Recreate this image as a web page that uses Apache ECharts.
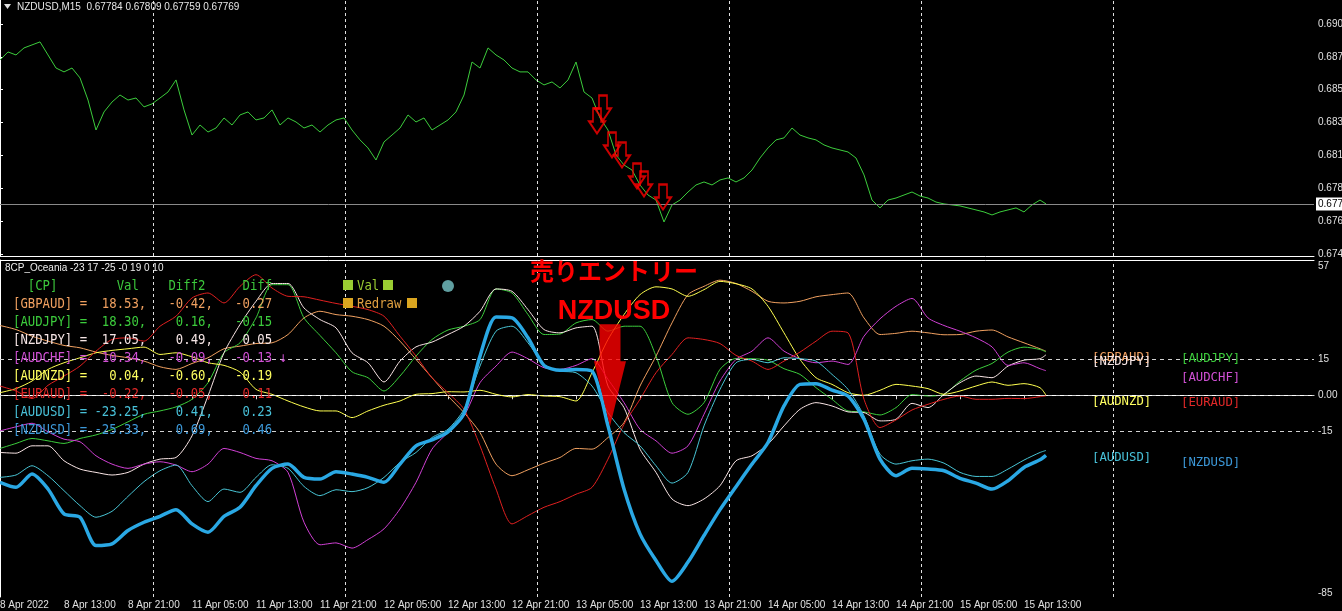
<!DOCTYPE html>
<html><head><meta charset="utf-8">
<script src="https://cdn.jsdelivr.net/npm/echarts@6/dist/echarts.min.js"></script>
<style>html,body{margin:0;padding:0;background:#000;}#c{width:1342px;height:611px;}</style>
</head><body><div id="c"></div>
<script>
// ---- x positions (M15 bar index) ----
const priceBars = Array.from({length:131},(_, i)=>i*4).concat([523]);
const indBars = Array.from({length:66},(_, i)=>i*8).concat([523]);
const tickBars = [0,32,64,96,128,160,192,224,256,288,320,352,384,416,448,480,512];
const tickLabels = ['8 Apr 2022','8 Apr 13:00','8 Apr 21:00','11 Apr 05:00','11 Apr 13:00','11 Apr 21:00','12 Apr 05:00','12 Apr 13:00','12 Apr 21:00','13 Apr 05:00','13 Apr 13:00','13 Apr 21:00','14 Apr 05:00','14 Apr 13:00','14 Apr 21:00','15 Apr 05:00','15 Apr 13:00'];
const daySepBars = [76.5,172.5,268.5,364.5,460.5,556.5];
const priceTicks = [0.67420,0.67649,0.67878,0.68107,0.68336,0.68565,0.68794,0.69023];
const oscTicks = [57,15,0,-15,-85];
const oscLevels = [15,0,-15];
const lastPrice = 0.67769;

// ---- NZDUSD M15 close ----
const price = [0.68772,0.68828,0.68807,0.68856,0.68877,0.68898,0.68807,0.68716,0.68689,0.68716,
0.68647,0.68493,0.68284,0.68410,0.68479,0.68528,0.68493,0.68507,0.68445,0.68466,
0.68507,0.68549,0.68633,0.68424,0.68249,0.68319,0.68270,0.68298,0.68368,0.68319,
0.68389,0.68410,0.68354,0.68368,0.68424,0.68319,0.68368,0.68340,0.68298,0.68319,
0.68270,0.68319,0.68354,0.68368,0.68284,0.68215,0.68159,0.68075,0.68201,0.68249,
0.68298,0.68389,0.68340,0.68368,0.68284,0.68319,0.68354,0.68410,0.68528,0.68758,
0.68716,0.68856,0.68807,0.68772,0.68716,0.68689,0.68689,0.68633,0.68598,0.68619,
0.68577,0.68633,0.68758,0.68549,0.68507,0.68368,0.68284,0.68110,0.68040,0.68005,
0.67901,0.67831,0.67796,0.67643,0.67762,0.67796,0.67852,0.67901,0.67922,0.67901,
0.67936,0.67950,0.67922,0.67950,0.68005,0.68089,0.68159,0.68215,0.68229,0.68298,
0.68249,0.68229,0.68215,0.68180,0.68159,0.68145,0.68131,0.68089,0.67971,0.67796,
0.67741,0.67796,0.67810,0.67831,0.67852,0.67824,0.67810,0.67782,0.67769,0.67762,
0.67755,0.67741,0.67727,0.67713,0.67692,0.67713,0.67727,0.67741,0.67713,0.67762,
0.67796,0.67769];

// ---- sell signals (bar, price) ----
const signalBars = [298.5,301.5,306,311,318.5,322,331.5];
const signalPrices = [0.68347,0.68438,0.68180,0.68110,0.67964,0.67908,0.67817];

// ---- 8CP_Oceania lines ----
const gbpaud = [29.4,27.7,24.9,22.8,21,20,18.2,16.8,15.8,14.4,12,10.9,13.4,15.8,19.6,20.7,21.8,22.1,25.6,32.6,35.4,34,33.3,31.9,29.1,22.8,15.1,7.4,-0.3,-7.3,-15.7,-29,-33.9,-31.4,-28.6,-26.2,-22.4,-22.7,-17.8,-11.5,3.9,16.5,30.5,42.4,45.9,48.5,47.1,43.8,39.6,38.9,39.6,41.5,42.4,43.1,32.6,25.6,26.1,27,26.3,25.5,25.6,27,27.5,24.6,22.1,19.6,18.53];
const audjpy = [-22.4,-20.3,-18.2,-19.2,-20.3,-18.2,-16.7,-14.4,-11.2,-8,-6.6,-4.9,-1.7,5.3,17.9,22.1,32.6,46.6,46.6,32.6,25.2,17.9,9.9,7.4,1.8,8.1,16.5,23.5,27.5,29.1,31.9,44.8,43.1,34,25.6,25.8,30.5,31.9,27,29.1,29.1,16.5,-3.1,-8,-3.1,10.9,15.5,15.4,14.8,11.2,8.8,3.2,-1.7,-6.6,-7,-8.3,-5.2,0.3,-0.3,0.4,6,10.6,13.4,18.2,20.3,19.3,18.3];
const nzdjpy = [-24.1,-24.4,-21.3,-21.3,-27.6,-31.1,-32.5,-33.6,-32.5,-29,-26.9,-26.2,-17.1,-0.3,17.9,29.8,39.6,47.1,47.1,36.8,31.9,28.4,17.9,13.7,5.6,14.4,20.4,22.4,25.6,29.1,35.4,44.8,43.8,36.1,27.7,26.3,28.4,29.1,3.9,-5.2,-22.7,-32.5,-43.7,-46.5,-43.7,-38.1,-27.6,-25.5,-20.6,-12.9,-5.9,-3.1,-4.5,-7,-7.3,-10.8,-10.1,-3.4,-5.2,0.4,5.3,8.1,7.4,12.3,14.8,15.4,17.05];
const audchf = [-15,-13.3,-11.8,-15.4,-18.5,-19.6,-25.5,-29,-30.8,-29,-28,-29.4,-32.2,-29,-22.4,-24.1,-26.6,-27.6,-32.5,-53.5,-63,-62.2,-64.4,-60.8,-56.3,-47.9,-36.7,-22.7,-15.7,-8.7,5.3,12.3,18.2,15.4,11.6,10.9,12.6,15.4,6.7,-3.1,-14.3,-19.2,-24.4,-21.3,-8,6,15.1,18.6,24.2,18.6,15.4,13.7,14.4,13,24.9,32.2,37.5,40.8,32.6,29.4,27,24.2,20.4,12.6,13.7,11.2,10.34];
const audnzd = [1.1,2.8,6,10.9,13.7,15.8,17.9,18.9,19.6,20.3,17.2,17.9,16.2,13.7,12.6,9.8,2.5,0.4,-2.4,-4.9,-6.6,-6.6,-9.4,-6.6,-4.2,-2.4,0.4,0.7,1.5,1.4,2.1,0.4,-0.7,0.3,-0.3,-0.6,-2.4,9.5,23.5,34,42.4,45.7,44.8,41.7,44.5,48,47,44.8,37.5,26.3,15.1,7.4,4.6,1.1,0,2.1,4.6,3.9,2.8,0.4,1.8,3.9,5.6,4.2,4.9,3.2,0.04];
const euraud = [3.9,1.8,-1.4,4.2,8.1,12.3,18.6,23.5,24.2,22.8,29.1,33.3,41,43.1,38.9,45.9,50.8,45.2,41.7,41.5,40.1,38.7,37.5,36.1,33.3,24.9,16.5,7.4,1.1,-5.9,-21.3,-39.5,-54.2,-50.7,-47.2,-44.8,-41.7,-38.8,-26.9,-12.2,-1.7,9.5,17.2,24.2,23.5,21.8,16.8,14.4,10.9,14.4,18.2,22.8,27,26.3,-1.7,-13.6,-10.4,-6.2,-3.8,-1.7,-0.3,-1.7,-1.7,-1.3,-1.4,-0.6,-0.22];
const audusd = [-34.6,-33.6,-29.7,-33.9,-40.2,-46.5,-51.4,-48.9,-42.6,-36.4,-31.8,-29.4,-38.1,-44.8,-39.5,-40.9,-34.6,-29.3,-30.8,-38.4,-42.3,-39.8,-40.6,-38.9,-34.6,-28.3,-24.1,-17.8,-14.3,-5.9,12.3,27,29.1,22.1,13,10.2,9.5,3.9,-7.3,-15.7,-21.3,-29.7,-37,-32.5,-12.9,2.5,13.7,15.1,13.7,15.8,15.4,14.4,8.8,2.5,-8.7,-24.8,-29,-27.6,-26.9,-28.6,-32.5,-34.2,-34.2,-31.1,-27.3,-24.1,-23.25];
const nzdusd = [-36.7,-38.8,-33.2,-39.5,-50,-51.4,-63.3,-62.6,-57,-53.5,-51,-48.2,-54.2,-57.7,-51,-47.2,-38.1,-30.8,-29,-34.6,-35.3,-32.2,-33.2,-34.6,-36.7,-29,-21.3,-18.8,-15.4,-7.6,16.5,33,32.6,24.2,12.6,10.5,10.9,10.2,-12.9,-39.5,-58.4,-69.6,-78.4,-70.3,-59.1,-48.2,-38.5,-29,-19.9,-4.5,4.6,4.9,2.2,-0.3,-10.1,-26.9,-33.9,-30.8,-31.1,-31.8,-35,-37,-39.5,-36,-30.4,-27.2,-25.33];

// ---- table ----
const pairNames = ['GBPAUD','AUDJPY','NZDJPY','AUDCHF','AUDNZD','EURAUD','AUDUSD','NZDUSD'];
const pairColors = ['#f0a060','#3ccc3c','#f8e4e4','#d040d4','#ffff50','#e02020','#48c4d4','#2aa8e4'];
const pairTextColors = ['#f0a060','#3ccc3c','#f4e4e4','#d050d4','#ffff60','#e02828','#48c0d8','#3c98d8'];
const tableVal = [18.53,18.30,17.05,10.34,0.04,-0.22,-23.25,-25.33];
const tableDiff2 = [-0.42,0.16,0.49,-0.09,-0.60,-0.05,0.41,0.69];
const tableDiff = [-0.27,-0.15,0.05,-0.13,-0.19,0.11,0.23,0.46];
const tableMark = ['','','','↓','','','',''];
const pairData = [gbpaud,audjpy,nzdjpy,audchf,audnzd,euraud,audusd,nzdusd];
const labelColumn = [0,1,0,1,0,1,0,1];
const labelColumnBar = [546,590.5];

const MONO = '"DejaVu Sans Mono", monospace';
const chart = echarts.init(document.getElementById('c'), null, {renderer:'canvas'});

const daySepLines = daySepBars.map(b => ({xAxis:b, lineStyle:{color:'#e0e0e0', type:[3,3], width:1}, label:{show:false}}));

const indSeries = pairNames.map((n, k) => ({
  name:n, type:'line', xAxisIndex:1, yAxisIndex:1,
  data: pairData[k].map((v,i)=>[indBars[i], v]),
  showSymbol:false, symbol:'none', smooth:0.25,
  lineStyle:{color:pairColors[k], width: n==='NZDUSD' ? 3.5 : 1},
  itemStyle:{color:pairColors[k]},
  z: n==='NZDUSD' ? 5 : 3,
  silent:true,
  markPoint:{
    symbol:'circle', symbolSize:0, silent:true,
    data:[{coord:[labelColumnBar[labelColumn[k]], pairData[k][pairData[k].length-1]]}],
    label:{show:true, position:[0,0], formatter:'['+n+']', color:pairTextColors[k], fontFamily:MONO, fontSize:12.3, lineHeight:14}
  }
}));

const rowStr = (k) => '['+pairNames[k]+'] = ' + tableVal[k].toFixed(2).padStart(6) + ',   ' +
  tableDiff2[k].toFixed(2).padStart(5) + ',   ' + tableDiff[k].toFixed(2).padStart(5) + (tableMark[k] ? ' '+tableMark[k] : '');
const headerStr = '  [CP]' + ' '.repeat(8) + 'Val' + ' '.repeat(4) + 'Diff2' + ' '.repeat(5) + 'Diff';

const monoText = (txt, x, y, fill) => ({type:'text', x:x, y:y, scaleY:1.18,
  style:{text:txt, x:0, y:0, textVerticalAlign:'middle', font:'12.3px '+MONO, fill:fill}, z:100});

const graphics = [
  {type:'polygon', shape:{points:[[4,4],[11,4],[7.5,9]]}, style:{fill:'#e0e0e0'}, z:100},
  {type:'text', style:{text:'NZDUSD,M15  0.67784 0.67809 0.67759 0.67769', x:17, y:7, textVerticalAlign:'middle', font:'10px "Liberation Sans"', fill:'#e6e6e6'}, z:100},
  {type:'text', style:{text:'8CP_Oceania -23 17 -25 -0 19 0 10', x:5, y:268, textVerticalAlign:'middle', font:'10px "Liberation Sans"', fill:'#ececec'}, z:100},
  monoText(headerStr, 13, 286, '#3cc83c'),
  {type:'rect', shape:{x:343, y:280, width:10, height:10}, style:{fill:'#9acd32'}, z:100},
  monoText('Val', 357, 286, '#9acd32'),
  {type:'rect', shape:{x:383, y:280, width:10, height:10}, style:{fill:'#9acd32'}, z:100},
  {type:'rect', shape:{x:343, y:298, width:10, height:10}, style:{fill:'#daa520'}, z:100},
  monoText('Redraw', 357, 304, '#e0a040'),
  {type:'rect', shape:{x:407, y:298, width:10, height:10}, style:{fill:'#daa520'}, z:100},
  {type:'circle', shape:{cx:448, cy:286, r:6}, style:{fill:'#5f9ea0'}, z:100},
  {type:'text', style:{text:'売りエントリー', x:614, y:271, textAlign:'center', textVerticalAlign:'middle', font:'bold 24px "Noto Sans CJK JP"', fill:'#ff0000'}, z:100},
  {type:'text', style:{text:'NZDUSD', x:614, y:312, textAlign:'center', textVerticalAlign:'middle', font:'bold 27px "Liberation Sans"', fill:'#ff0000'}, z:100}
];
pairNames.forEach((n,k) => {
  graphics.push(monoText(rowStr(k), 13, 304+18*k, pairTextColors[k]));
});

const option = {
  backgroundColor:'#000',
  animation:false,
  grid:[
    {left:0, top:0, width:1314, height:256, outerBoundsMode:'none', containLabel:false},
    {left:0, top:260, width:1314, height:337, outerBoundsMode:'none', containLabel:false}
  ],
  xAxis:[
    {gridIndex:0, type:'value', min:0, max:657, axisLine:{show:true, lineStyle:{color:'#fff'}}, axisTick:{show:false}, axisLabel:{show:false}, splitLine:{show:false}},
    {gridIndex:1, type:'value', min:0, max:657, position:'bottom',
      axisLine:{show:true, lineStyle:{color:'#fff'}},
      axisTick:{show:true, customValues:tickBars, length:4, lineStyle:{color:'#ddd'}},
      axisLabel:{show:true, customValues:tickBars, formatter:(v)=>tickLabels[tickBars.indexOf(v)], align:'left', color:'#e0e0e0', fontSize:10, fontFamily:'Liberation Sans', margin:3},
      splitLine:{show:false}},
    {gridIndex:1, type:'value', min:0, max:657, position:'top', axisLine:{show:true, lineStyle:{color:'#fff'}}, axisTick:{show:false}, axisLabel:{show:false}, splitLine:{show:false}}
  ],
  yAxis:[
    {gridIndex:0, type:'value', position:'right', min:0.67406, max:0.69190,
      axisLine:{show:true, lineStyle:{color:'#fff'}},
      axisTick:{show:true, customValues:priceTicks, length:3, lineStyle:{color:'#fff'}},
      axisLabel:{customValues:priceTicks, formatter:(v)=>v.toFixed(5), color:'#e0e0e0', fontSize:10, fontFamily:'Liberation Sans', margin:4},
      splitLine:{show:false}},
    {gridIndex:1, type:'value', position:'right', min:-85, max:57,
      axisLine:{show:true, lineStyle:{color:'#fff'}},
      axisTick:{show:false},
      axisLabel:{customValues:oscTicks, margin:4, color:'#e0e0e0', fontSize:10, fontFamily:'Liberation Sans',
        formatter:(v)=> v===57 ? '{t|57}' : (v===-85 ? '{b|-85}' : (v===0 ? '0.00' : String(v))),
        rich:{t:{padding:[12,0,0,0], color:'#e0e0e0', fontSize:10, fontFamily:'Liberation Sans'}, b:{padding:[0,0,8,0], color:'#e0e0e0', fontSize:10, fontFamily:'Liberation Sans'}}},
      splitLine:{show:false}}
  ],
  graphic: graphics,
  series:[
    {name:'NZDUSD,M15', type:'line', xAxisIndex:0, yAxisIndex:0,
      data: price.map((v,i)=>[priceBars[i], v]),
      showSymbol:false, symbol:'none', lineStyle:{color:'#3ccc3c', width:1}, silent:true, z:3,
      markLine:{symbol:['none','none'], silent:true, animation:false, precision:5,
        data: daySepLines.concat([{yAxis:lastPrice, lineStyle:{color:'#8a8a8a', type:'solid', width:1},
          label:{show:true, position:'end', distance:2, formatter:lastPrice.toFixed(5), color:'#000', backgroundColor:'#fff', padding:[2,2,1,2], fontSize:10, fontFamily:'Liberation Sans'}}])}},
    {name:'signals', type:'scatter', xAxisIndex:0, yAxisIndex:0,
      data: signalBars.map((b,i)=>[b, signalPrices[i]]),
      symbol:'path://M4,0 L12,0 L12,13 L16,13 L8,25 L0,13 L4,13 Z', symbolSize:[16,25],
      itemStyle:{color:'rgba(0,0,0,0)', borderColor:'#ff0000', borderWidth:2}, silent:true, z:6},
    {name:'levels', type:'line', xAxisIndex:1, yAxisIndex:1, data:[], silent:true,
      markLine:{symbol:['none','none'], silent:true, animation:false, label:{show:false}, precision:3,
        data: oscLevels.map(l=>({yAxis:l, lineStyle:{color:'#d0d0d0', type:[4,4], width:1}})).concat(daySepLines)}},
    ...indSeries,
    {name:'entry', type:'scatter', xAxisIndex:1, yAxisIndex:1,
      data:[[305, 8.4]],
      symbol:'path://M5.5,0 L26.5,0 L26.5,37 L32,37 L16,102 L0,37 L5.5,37 Z', symbolSize:[32,102],
      itemStyle:{color:'#ff0000'}, silent:true, z:20}
  ]
};
chart.setOption(option);
</script></body></html>
